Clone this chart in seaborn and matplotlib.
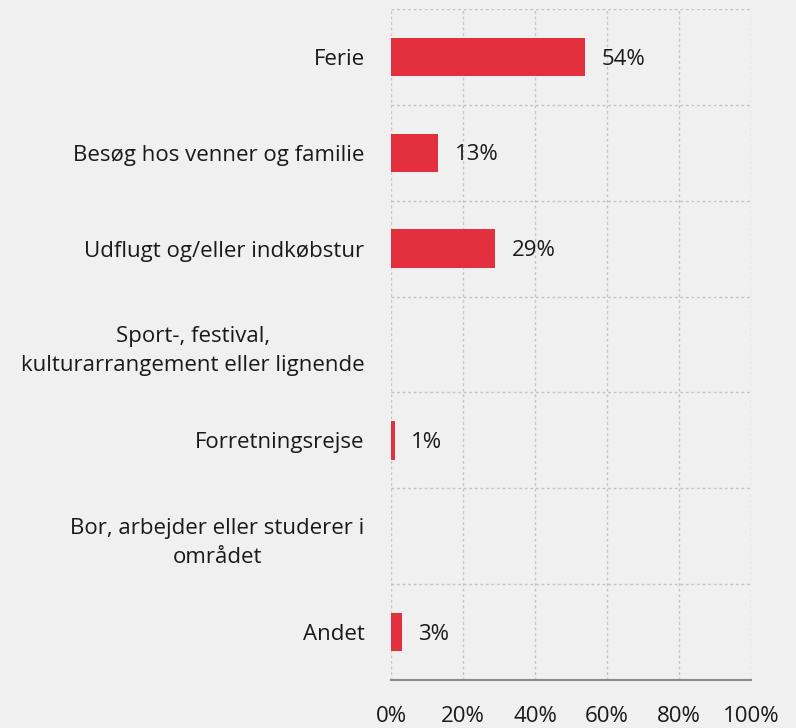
import numpy as np
import pandas as pd
import matplotlib
matplotlib.use("Agg")
import matplotlib.pyplot as plt
import seaborn as sns

categories = [
    "Ferie",
    "Besøg hos venner og familie",
    "Udflugt og/eller indkøbstur",
    "Sport-, festival,\nkulturarrangement eller lignende",
    "Forretningsrejse",
    "Bor, arbejder eller studerer i\nområdet",
    "Andet",
]
values = [54, 13, 29, np.nan, 1, np.nan, 3]
x_ticks = [0, 20, 40, 60, 80, 100]
x_tick_labels = ["0%", "20%", "40%", "60%", "80%", "100%"]

bg = "#f0f0f0"
bar_color = "#e3303f"
grid_color = "#c4c4c4"
text_color = "#1a1a1a"
fs = 16

sns.set_theme(style="white")
plt.rcParams["font.family"] = ["Open Sans", "DejaVu Sans"]

df = pd.DataFrame({"kategori": categories, "andel": values})

fig = plt.figure(figsize=(7.96, 7.28), dpi=100, facecolor=bg)
ax = fig.add_axes([391 / 796, 1 - 680 / 728, 360 / 796, 671 / 728])
ax.set_facecolor(bg)

sns.barplot(data=df.dropna(), x="andel", y="kategori", order=categories,
            color=bar_color, saturation=1, width=0.4, linewidth=0,
            ax=ax, orient="h")

ax.set_xlim(0, 100)
ax.set_ylim(len(categories) - 0.5, -0.5)
ax.set_xticks(x_ticks)
ax.set_xticklabels(x_tick_labels, fontsize=fs, color=text_color)
ax.set_yticks(range(len(categories)))
ax.set_yticklabels(categories, fontsize=fs, color=text_color,
                   multialignment="center", linespacing=1.5)
ax.set_xlabel("")
ax.set_ylabel("")

# band boundaries as minor ticks for horizontal gridlines
ax.set_yticks(np.arange(-0.5, len(categories), 1), minor=True)
ax.grid(axis="x", which="major", color=grid_color, linestyle=(0, (2, 2)), linewidth=1)
ax.grid(axis="y", which="minor", color=grid_color, linestyle=(0, (2, 2)), linewidth=1)
ax.tick_params(axis="y", which="both", length=0, pad=19)
ax.tick_params(axis="x", which="major", length=8, width=1.2, color="#8a8a8a",
               direction="out", pad=11)
ax.set_axisbelow(True)

for side in ["top", "right", "left"]:
    ax.spines[side].set_visible(False)
ax.spines["bottom"].set_color("#8a8a8a")
ax.spines["bottom"].set_linewidth(1.5)

for i, v in enumerate(values):
    if not np.isnan(v):
        ax.annotate(f"{v:.0f}%", xy=(v, i), xytext=(12, -1.5), textcoords="offset points",
                    va="center", ha="left", fontsize=fs, color=text_color)

fig.savefig("out.png", dpi=100, facecolor=bg)
